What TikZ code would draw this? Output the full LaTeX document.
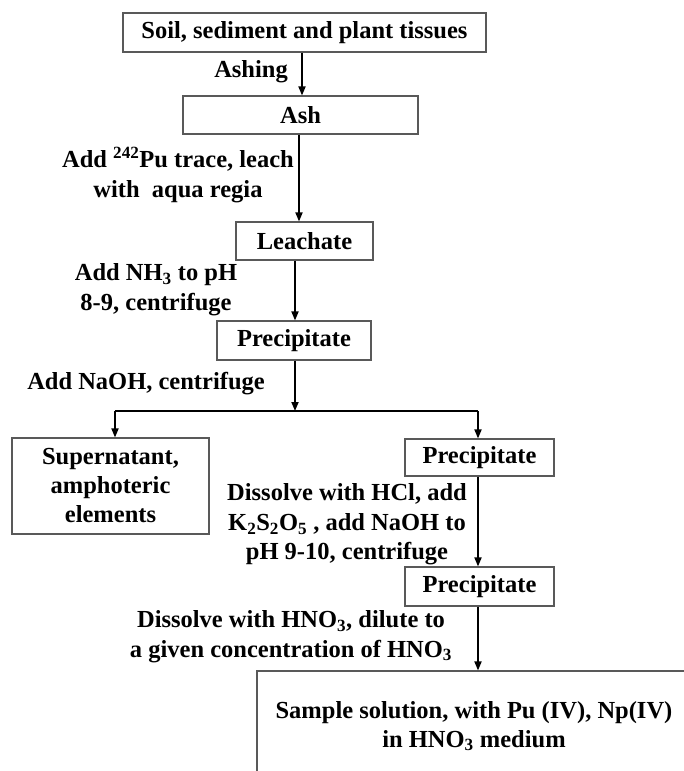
\documentclass[tikz,border=0pt]{standalone}
\usepackage{fontspec}
\setmainfont{Liberation Serif}
\usetikzlibrary{arrows.meta}
\tikzset{
  box/.style={draw=black!65, line width=1.1pt, inner sep=0pt, font=\bfseries\fontsize{24.5}{29}\selectfont, align=center},
  lab/.style={inner sep=0pt, font=\bfseries\fontsize{24.5}{29.5}\selectfont, align=center},
  arr/.style={line width=1.7pt, -{Triangle[length=9pt,width=7pt]}},
  ln/.style={line width=1.7pt}
}
\begin{document}
\begin{tikzpicture}[x=1pt,y=1pt]
\useasboundingbox (0,0) rectangle (684,-771);
\clip (0,0) rectangle (684,-771);
% boxes
\node[box, minimum width=363pt, minimum height=39pt] (b1) at (304.5,-32.5) {Soil, sediment and plant tissues};
\node[box, minimum width=235pt, minimum height=38pt] (ash) at (300.5,-115) {Ash};
\node[box, minimum width=137pt, minimum height=38pt] (leach) at (304.5,-241) {Leachate};
\node[box, minimum width=154pt, minimum height=39pt] (p1) at (294,-340.5) {Precipitate};
\node[box, minimum width=197pt, minimum height=96pt] (sup) at (110.5,-486) {Supernatant,\\amphoteric\\elements};
\node[box, minimum width=149pt, minimum height=37pt] (p2) at (479.5,-457.5) {Precipitate};
\node[box, minimum width=149pt, minimum height=39pt] (p3) at (479.5,-586.5) {Precipitate};
\node[box, minimum width=434pt, minimum height=110pt] (samp) at (474,-726) {Sample solution, with Pu (IV), Np(IV)\\in HNO\textsubscript{3} medium};
% labels
\node[lab, anchor=east] (l1) at (288,-72) {Ashing};
\node[lab] (l2) at (178,-175) {Add \textsuperscript{242}Pu trace, leach\\with\ \ aqua regia};
\node[lab] (l3) at (156,-289.5) {Add NH\textsubscript{3} to pH\\8-9, centrifuge};
\node[lab] (l4) at (146,-384) {Add NaOH, centrifuge};
\node[lab] (l5) at (347,-524.5) {Dissolve with HCl, add\\K\textsubscript{2}S\textsubscript{2}O\textsubscript{5} , add NaOH to\\pH 9-10, centrifuge};
\node[lab] (l6) at (291,-636.5) {Dissolve with HNO\textsubscript{3}, dilute to\\a given concentration of HNO\textsubscript{3}};
% connectors
\coordinate (split) at (295,-411);
\coordinate (sl) at (115,-411);
\coordinate (sr) at (478,-411);
\draw[arr] ([xshift=-2.5pt]b1.south) -- ([xshift=-2.5pt]b1.south |- ash.north);
\draw[arr] ([xshift=-1.5pt]ash.south) -- ([xshift=-1.5pt]ash.south |- leach.north);
\draw[arr] ([xshift=-9.5pt]leach.south) -- ([xshift=-9.5pt]leach.south |- p1.north);
\draw[arr] ([xshift=1pt]p1.south) -- (split);
\draw[ln] (sl) -- (sr);
\draw[arr] (sl) -- (sl |- sup.north);
\draw[arr] (sr) -- (sr |- p2.north);
\draw[arr] ([xshift=-1.5pt]p2.south) -- ([xshift=-1.5pt]p2.south |- p3.north);
\draw[arr] ([xshift=-1.5pt]p3.south) -- ([xshift=-1.5pt]p3.south |- samp.north);
\end{tikzpicture}
\end{document}
